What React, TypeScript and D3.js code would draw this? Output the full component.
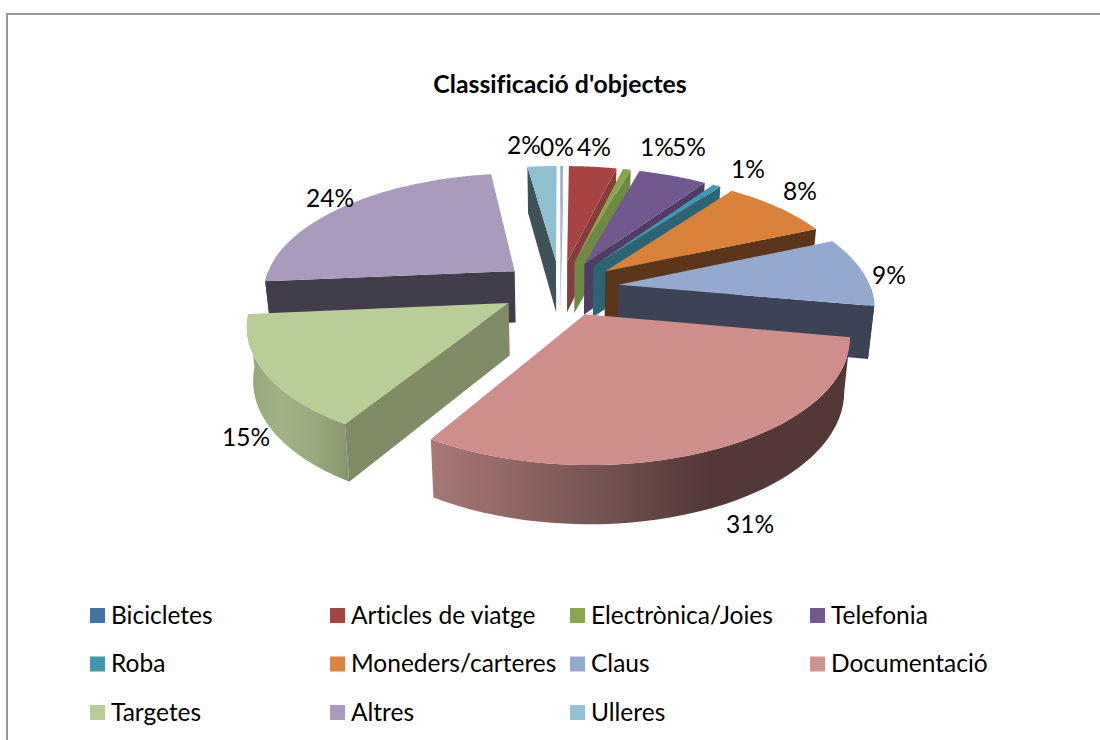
import React from "react";
import * as d3 from "d3";

const categories = ["Bicicletes","Articles de viatge","Electrònica/Joies","Telefonia","Roba","Moneders/carteres","Claus","Documentació","Targetes","Altres","Ulleres"];
const values = [0.2,3.6,0.6,5.2,0.6,8.3,9.3,30.9,14.8,24.2,2.2];
const percentLabels = ["0%","4%","1%","5%","1%","8%","9%","31%","15%","24%","2%"];
const topColors = ["#8fa9cc","#a74442","#89a54e","#71588f","#4198af","#d98039","#93a9cf","#ce8e8c","#b9cd96","#a99bbd","#8fc0d2"];
const legendColors = ["#4572a7","#a74442","#89a54e","#71588f","#4198af","#db843d","#93a9cf","#d19392","#b9cd96","#a99bbd","#92c3d4"];
const wallColors = ["#9db4d0","#863c3c","#6e8a42","#4f3d66","#2b6575","#5b361a","#3c4356","#523837","#7f8c66","#423d4b","#3e5259"];
const labelCentres: [number, number][] = [[557,148],[594,148],[657,148],[689,148],[748,170],[800,192],[889,276],[750,525],[246,438],[330,199],[524,146]];
// gradient stops for the outer rim of the two slices that show one: [index, x0, x1, colours]
const rimGradients: [number, number, number, string[]][] = [
  [7, 433, 710, ["#a67875", "#8d6461", "#6e504d", "#523837"]],
  [8, 248, 350, ["#96a67b", "#a2b384", "#9aa97c", "#87946c"]],
];

const FONT = "Lato, Carlito, sans-serif";
const cx = 560, cy = 288, S = 252, B = 118, k = 0.157, D = 52, k2 = 0.1, explode = 0.235, shrink = 0.98;

type P = [number, number];
const project = (X: number, Y: number, down: boolean): P => {
  const w = 1 + k * Y;
  let sx = cx + (S * X) / w;
  let sy = cy - (B * Y) / w;
  if (down) {
    sy += D / (1 + k2 * Y);
    sx = cx + (sx - cx) * shrink;
  }
  return [sx, sy];
};

const line = d3.line<P>();
const pie = d3.pie<number>().sort(null).value((d) => d)(values);
const slices = pie.map((p, i) => {
  const a0 = p.startAngle, a1 = p.endAngle, m = (a0 + a1) / 2;
  const ox = explode * Math.sin(m), oy = explode * Math.cos(m);
  const at = (t: number, r: number, down: boolean) => project(ox + r * Math.sin(t), oy + r * Math.cos(t), down);
  const arcT = (s: number, e: number) => d3.range(0, 41).map((j) => s + ((e - s) * j) / 40);
  const top = line([at(0, 0, false), ...arcT(a0, a1).map((t) => at(t, 1, false))]) + "Z";
  const radial = (t: number) => line([at(t, 0, false), at(t, 1, false), at(t, 1, true), at(t, 0, true)]) + "Z";
  const walls: string[] = [];
  if (Math.sin(a0) < 0) walls.push(radial(a0));
  if (Math.sin(a1) > 0) walls.push(radial(a1));
  const rs = Math.max(a0, Math.PI / 2), re = Math.min(a1, (3 * Math.PI) / 2);
  let rim: string | null = null;
  if (re > rs) {
    const ts = arcT(rs, re);
    rim = line([...ts.map((t) => at(t, 1, false)), ...ts.slice().reverse().map((t) => at(t, 1, true))]) + "Z";
  }
  return { i, m, top, walls, rim };
});
const drawOrder = slices.slice().sort((a, b) => Math.cos(b.m) - Math.cos(a.m));

const legendX = d3.scaleLinear().domain([0, 3]).range([90, 810]);
const legendY = d3.scaleLinear().domain([0, 2]).range([615.5, 712.5]);

export default function App() {
  return (
    <svg width={1100} height={740} style={{ position: "absolute", left: 0, top: 0, background: "#fff", fontVariantLigatures: "none" }}>
      <defs>
        {rimGradients.map(([idx, x0, x1, cols]) => (
          <linearGradient key={idx} id={`rim${idx}`} gradientUnits="userSpaceOnUse" x1={x0} x2={x1} y1={0} y2={0}>
            {cols.map((c, j) => (
              <stop key={j} offset={j / (cols.length - 1)} stopColor={c} />
            ))}
          </linearGradient>
        ))}
      </defs>
      <path d="M7,740V14H1100" fill="none" stroke="#9a9a9a" strokeWidth={2} />
      <text x={560} y={93} textAnchor="middle" fontFamily={FONT} fontWeight={700} fontSize={24.8} fill="#000">Classificació d'objectes</text>
      {drawOrder.map((s) => {
        const rimFill = rimGradients.some((g) => g[0] === s.i) ? `url(#rim${s.i})` : wallColors[s.i];
        return (
          <g key={s.i}>
            {s.walls.map((d, j) => <path key={j} d={d} fill={wallColors[s.i]} />)}
            {s.rim && <path d={s.rim} fill={rimFill} />}
            <path d={s.top} fill={topColors[s.i]} />
          </g>
        );
      })}
      {percentLabels.map((t, i) => (
        <text key={i} x={labelCentres[i][0]} y={labelCentres[i][1] + 8} textAnchor="middle" fontFamily={FONT} fontSize={24.5} fill="#000">{t}</text>
      ))}
      {categories.map((c, i) => {
        const col = i % 4, row = Math.floor(i / 4);
        const x = legendX(col), y = legendY(row);
        return (
          <g key={c}>
            <rect x={x} y={y - 7.5} width={15} height={15} fill={legendColors[i]} />
            <text x={x + 21} y={y + 8} fontFamily={FONT} fontSize={24.5} fill="#000">{c}</text>
          </g>
        );
      })}
    </svg>
  );
}
